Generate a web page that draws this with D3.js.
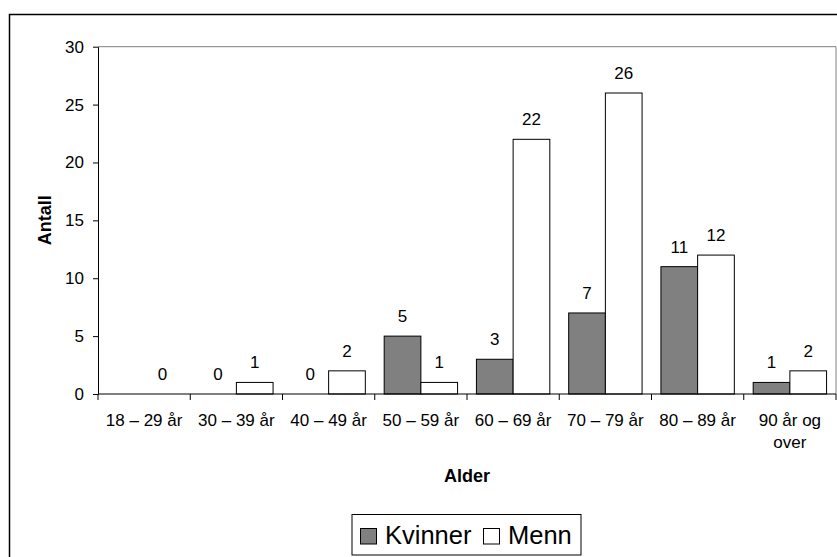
<!DOCTYPE html>
<html><head><meta charset="utf-8">
<script src="https://cdn.jsdelivr.net/npm/d3@7"></script>
<style>
html,body{margin:0;padding:0;background:#fff;}
svg{display:block;font-family:Arial,"Liberation Sans",sans-serif;}
</style></head>
<body><svg id="c" width="837" height="557"></svg>
<script>
const categories = ["18 – 29 år","30 – 39 år","40 – 49 år","50 – 59 år","60 – 69 år","70 – 79 år","80 – 89 år","90 år og over"];
const categoryLabelLines = [["18 – 29 år"],["30 – 39 år"],["40 – 49 år"],["50 – 59 år"],["60 – 69 år"],["70 – 79 år"],["80 – 89 år"],["90 år og","over"]];
const seriesNames = ["Kvinner","Menn"];
const kvinner = [null,0,0,5,3,7,11,1];
const menn = [0,1,2,1,22,26,12,2];
const yTicks = [0,5,10,15,20,25,30];
const colors = {Kvinner:"#808080", Menn:"#ffffff"};

const svg = d3.select("#c");
// outer chart border
svg.append("rect").attr("x",9.5).attr("y",14.5).attr("width",900).attr("height",600)
  .attr("fill","none").attr("stroke","#000").attr("stroke-width",1.5);

const L=98, R=836, T=46.7, B=394;
const x0 = d3.scaleBand().domain(categories).range([L,R]).padding(0);
const x1 = d3.scaleBand().domain(seriesNames).range([0,x0.bandwidth()]).paddingInner(0).paddingOuter(0.257);
const y = d3.scaleLinear().domain([0,30]).range([B,T]);

// plot frame (top/right grey)
svg.append("path").attr("d",`M${L},${T}H${R}V${B}`).attr("fill","none").attr("stroke","#808080").attr("stroke-width",1);

const data = categories.map((c,i)=>({cat:c, vals:[{s:"Kvinner",v:kvinner[i]},{s:"Menn",v:menn[i]}]}));
const g = svg.append("g");
const grp = g.selectAll("g.grp").data(data).join("g").attr("transform",d=>`translate(${x0(d.cat)},0)`);
grp.selectAll("rect").data(d=>d.vals.filter(e=>e.v!==null && e.v>0)).join("rect")
  .attr("x",d=>x1(d.s)).attr("width",x1.bandwidth())
  .attr("y",d=>y(d.v)).attr("height",d=>y(0)-y(d.v))
  .attr("fill",d=>colors[d.s]).attr("stroke","#000").attr("stroke-width",1);
grp.selectAll("text").data(d=>d.vals.filter(e=>e.v!==null)).join("text")
  .attr("x",d=>x1(d.s)+x1.bandwidth()/2).attr("y",d=>y(d.v)-14)
  .attr("text-anchor","middle").attr("font-size","17px").attr("fill","#000")
  .text(d=>d.v);

// y axis
const yAxis = d3.axisLeft(y).tickValues(yTicks).tickSize(5).tickPadding(9).tickSizeOuter(0);
const ya = svg.append("g").attr("transform",`translate(${L},0)`).call(yAxis);
ya.selectAll("text").attr("font-size","17px").attr("fill","#000").attr("font-family","Arial,'Liberation Sans',sans-serif");
ya.selectAll("line,path").attr("stroke","#000");

// x axis
svg.append("line").attr("x1",L).attr("x2",R).attr("y1",B).attr("y2",B).attr("stroke","#000");
const bounds = categories.map(c=>x0(c)).concat([R]);
svg.selectAll("line.xt").data(bounds).join("line").attr("class","xt")
  .attr("x1",d=>d).attr("x2",d=>d).attr("y1",B).attr("y2",B+6).attr("stroke","#000");
const xl = svg.selectAll("text.xl").data(categories).join("text").attr("class","xl")
  .attr("x",c=>x0(c)+x0.bandwidth()/2).attr("y",426)
  .attr("text-anchor","middle").attr("font-size","17px").attr("fill","#000");
xl.each(function(c,i){
  const t=d3.select(this);
  categoryLabelLines[i].forEach((ln,j)=>{
    t.append("tspan").attr("x",x0(c)+x0.bandwidth()/2).attr("dy",j===0?0:22).text(ln);
  });
});

// axis titles
svg.append("text").attr("x",(L+R)/2).attr("y",482).attr("text-anchor","middle")
  .attr("font-size","18px").attr("font-weight","bold").text("Alder");
svg.append("text").attr("transform",`translate(51,${(T+B)/2}) rotate(-90)`).attr("text-anchor","middle")
  .attr("font-size","18px").attr("font-weight","bold").text("Antall");

// legend
const lg = svg.append("g");
lg.append("rect").attr("x",352).attr("y",514.5).attr("width",229).attr("height",40.5)
  .attr("fill","#fff").attr("stroke","#000").attr("stroke-width",1);
const legendItems = [{s:"Kvinner",x:360},{s:"Menn",x:483}];
legendItems.forEach(it=>{
  lg.append("rect").attr("x",it.x+0.5).attr("y",528.5).attr("width",16).attr("height",15.5)
    .attr("fill",colors[it.s]).attr("stroke","#000");
  lg.append("text").attr("x",it.x+25).attr("y",543.5).attr("font-size","25.5px").text(it.s);
});
</script></body></html>
